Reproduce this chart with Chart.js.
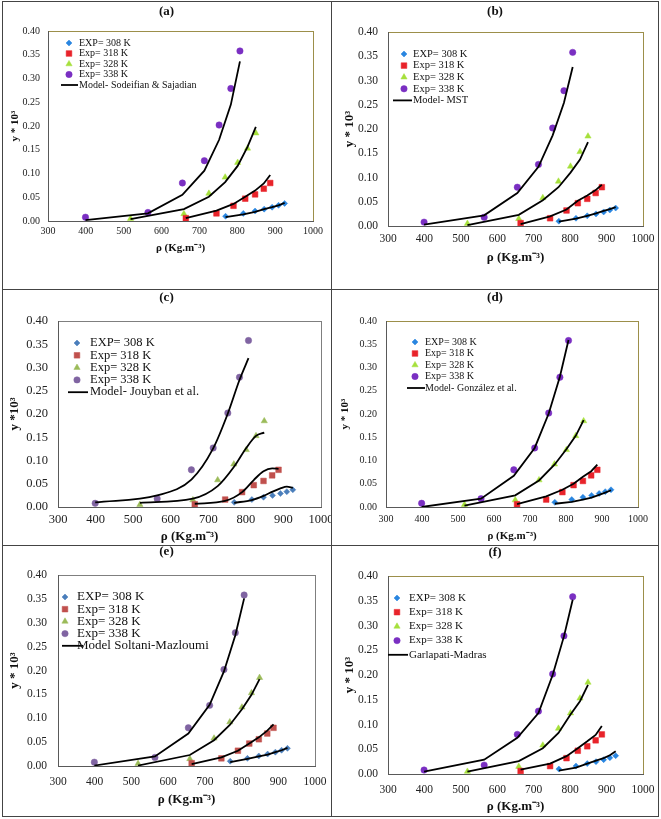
<!DOCTYPE html>
<html lang="en">
<head>
  <meta charset="UTF-8" />
  <title>Solubility vs CO2 density - six models</title>
  <script src="https://cdn.jsdelivr.net/npm/chart.js"></script>
  <style>
    body {
      margin: 0;
      background: #fff;
    }

    #page {
      position: relative;
      width: 661px;
      height: 819px;
      overflow: hidden;
    }

    canvas {
      position: absolute;
    }

    .rule {
      position: absolute;
      background: #444;
    }
  </style>
</head>
<body>
  <div id="page">
    <canvas id="ca"></canvas>
    <canvas id="cb"></canvas>
    <canvas id="cc"></canvas>
    <canvas id="cd"></canvas>
    <canvas id="ce"></canvas>
    <canvas id="cf"></canvas>

    <div class="rule" style="left:2px;top:1px;width:657px;height:1px"></div>
    <div class="rule" style="left:2px;top:816px;width:657px;height:1px"></div>
    <div class="rule" style="left:2px;top:1px;width:1px;height:816px"></div>
    <div class="rule" style="left:658px;top:1px;width:1px;height:816px"></div>
    <div class="rule" style="left:331px;top:1px;width:1px;height:816px"></div>
    <div class="rule" style="left:2px;top:289px;width:657px;height:1px"></div>
    <div class="rule" style="left:2px;top:545px;width:657px;height:1px"></div>
  </div>

  <script>
    // densities (kg/m3) of the experimental points
    const rho308 = [769, 816, 847, 871, 892, 909, 925];
    const rho318 = [664, 745, 790, 821, 847, 870, 887];
    const rho328 = [518, 659, 725, 768, 801, 827, 849];
    const rho338 = [399, 564, 655, 713, 752, 783, 807];

    // measured solubility y * 10^3
    const exp308 = [0.010, 0.016, 0.021, 0.025, 0.029, 0.033, 0.037];
    const exp318 = [0.006, 0.016, 0.032, 0.047, 0.056, 0.068, 0.080];
    const exp328 = [0.005, 0.015, 0.058, 0.092, 0.123, 0.153, 0.185];
    const exp338 = [0.008, 0.018, 0.080, 0.127, 0.202, 0.279, 0.358];

    const expLabels = ['EXP= 308 K', 'Exp= 318 K', 'Exp= 328 K', 'Exp= 338 K'];

    const xMin = 300, xMax = 1000, xStep = 100;
    const yMin = 0, yMax = 0.40, yStep = 0.05;

    // model predictions, rows: 308, 318, 328, 338 K
    const sodeifian = [
      [0.008, 0.014, 0.019, 0.025, 0.029, 0.033, 0.038],
      [0.006, 0.022, 0.036, 0.051, 0.064, 0.079, 0.097],
      [0.004, 0.025, 0.051, 0.082, 0.116, 0.156, 0.198],
      [0.002, 0.016, 0.055, 0.106, 0.171, 0.245, 0.336]
    ];
    const mst = [
      [0.009, 0.015, 0.021, 0.026, 0.031, 0.035, 0.039],
      [0.004, 0.020, 0.034, 0.052, 0.063, 0.074, 0.085],
      [0.002, 0.023, 0.053, 0.080, 0.110, 0.137, 0.173],
      [0.003, 0.022, 0.068, 0.122, 0.187, 0.254, 0.328]
    ];
    const jouyban = [
      [0.009, 0.015, 0.024, 0.033, 0.040, 0.044, 0.041],
      [0.007, 0.013, 0.032, 0.058, 0.077, 0.083, 0.082],
      [0.009, 0.018, 0.045, 0.086, 0.127, 0.153, 0.160],
      [0.010, 0.025, 0.059, 0.126, 0.201, 0.273, 0.320]
    ];
    const gonzalez = [
      [0.007, 0.011, 0.016, 0.020, 0.026, 0.031, 0.036],
      [0.006, 0.023, 0.037, 0.050, 0.065, 0.077, 0.091],
      [0.003, 0.025, 0.057, 0.091, 0.124, 0.153, 0.187],
      [0.000, 0.018, 0.067, 0.127, 0.201, 0.280, 0.359]
    ];
    const soltani = [
      [0.008, 0.015, 0.020, 0.024, 0.029, 0.033, 0.038],
      [0.004, 0.018, 0.032, 0.047, 0.060, 0.074, 0.087],
      [0.001, 0.023, 0.054, 0.086, 0.119, 0.149, 0.182],
      [0.001, 0.020, 0.068, 0.128, 0.198, 0.274, 0.351]
    ];
    const garlapati = [
      [0.007, 0.013, 0.021, 0.027, 0.032, 0.038, 0.046],
      [0.009, 0.021, 0.036, 0.052, 0.066, 0.079, 0.097],
      [0.005, 0.026, 0.052, 0.083, 0.120, 0.147, 0.180],
      [0.005, 0.029, 0.073, 0.123, 0.200, 0.278, 0.352]
    ];

    const densities = [rho308, rho318, rho328, rho338];
    const exps = [exp308, exp318, exp328, exp338];
    const shapes = ['rectRot', 'rect', 'triangle', 'circle'];
    const radii = [3, 4, 3.6, 3.2];
    const bright = ['#2a86e0', '#e8232a', '#a6e03c', '#7a2fc2'];
    const office = ['#4a7ebb', '#c0504d', '#9bbb59', '#8064a2'];
    const FONT = '"Liberation Serif", "Times New Roman", serif';

    const pts = (xs, ys) => xs.map((x, i) => ({ x, y: ys[i] }));

    // frame round the plot area (top/right visible, axes cover left/bottom)
    const plotFrame = {
      id: 'plotFrame',
      beforeDraw(chart, args, o) {
        const a = chart.chartArea;
        const ctx = chart.ctx;
        ctx.save();
        ctx.strokeStyle = o.color;
        ctx.lineWidth = 1;
        ctx.strokeRect(Math.round(a.left) + 0.5, Math.round(a.top) + 0.5,
          Math.round(a.right - a.left), Math.round(a.bottom - a.top));
        ctx.restore();
      }
    };

    // legend drawn inside the plot area, plus the panel letter
    const insideLegend = {
      id: 'insideLegend',
      afterDatasetsDraw(chart, args, o) {
        const ctx = chart.ctx;
        const ds = chart.data.datasets;
        ctx.save();
        ctx.font = o.size + 'px ' + FONT;
        ctx.textBaseline = 'middle';
        ctx.textAlign = 'left';
        for (let i = 0; i < 5; i++) {
          const y = o.y + i * o.dy;
          const d = ds[i];
          if (i < 4) {
            ctx.fillStyle = d.backgroundColor;
            ctx.strokeStyle = d.borderColor;
            ctx.lineWidth = 0.5;
            Chart.helpers.drawPoint(ctx, { pointStyle: d.pointStyle, radius: d.pointRadius, borderWidth: 0.5, rotation: 0 }, o.mx, y);
          } else {
            ctx.strokeStyle = '#000';
            ctx.lineWidth = 1.8;
            ctx.beginPath();
            ctx.moveTo(o.lx1, y);
            ctx.lineTo(o.lx2, y);
            ctx.stroke();
          }
          ctx.fillStyle = '#111';
          ctx.fillText(d.label, o.tx, y);
        }
        ctx.font = 'bold 13px ' + FONT;
        ctx.textAlign = 'center';
        ctx.fillText(o.panel, chart.width / 2, o.ly);
        ctx.restore();
      }
    };

    const panels = [
      { id: 'a', model: sodeifian, name: 'Model- Sodeifian & Sajadian', colors: bright, frame: '#9c8f4a', smooth: false,
        cell: { x: 2, y: 1, w: 329, h: 288 }, plot: { l: 48, t: 31, r: 313, b: 221 },
        yTitle: 'y * 10³', yTitleX: 15, xTitleY: 248, fs: 10, tfs: 11, ytPad: 8, xtPad: 4, ly: 12,
        leg: { mx: 69, tx: 79, lx1: 61, lx2: 78, y: 43, dy: 10.5, size: 10 } },
      { id: 'b', model: mst, name: 'Model- MST', colors: bright, frame: '#9c8f4a', smooth: false,
        cell: { x: 331, y: 1, w: 328, h: 288 }, plot: { l: 388, t: 32, r: 643, b: 226 },
        yTitle: 'y * 10³', yTitleX: 350, xTitleY: 258, fs: 11.5, tfs: 13, ytPad: 10, xtPad: 6, ly: 12,
        leg: { mx: 404, tx: 413, lx1: 393, lx2: 412, y: 54, dy: 11.6, size: 10.5 } },
      { id: 'c', model: jouyban, name: 'Model- Jouyban et al.', colors: office, frame: '#7f7f7f', smooth: true,
        cell: { x: 2, y: 289, w: 329, h: 256 }, plot: { l: 58, t: 321, r: 321, b: 507 },
        yTitle: 'y *10³', yTitleX: 15, xTitleY: 537, fs: 12.5, tfs: 13, ytPad: 10, xtPad: 5, ly: 298,
        leg: { mx: 77, tx: 90, lx1: 68, lx2: 88, y: 343, dy: 12.3, size: 12.5 } },
      { id: 'd', model: gonzalez, name: 'Model- González et al.', colors: bright, frame: '#9c8f4a', smooth: false,
        cell: { x: 331, y: 289, w: 328, h: 256 }, plot: { l: 386, t: 321, r: 638, b: 507 },
        yTitle: 'y * 10³', yTitleX: 345, xTitleY: 536, fs: 10, tfs: 11, ytPad: 9, xtPad: 6, ly: 298,
        leg: { mx: 415, tx: 425, lx1: 407, lx2: 425, y: 342, dy: 11.5, size: 10 } },
      { id: 'e', model: soltani, name: 'Model Soltani-Mazloumi', colors: office, frame: '#7f7f7f', smooth: false,
        cell: { x: 2, y: 545, w: 329, h: 272 }, plot: { l: 58, t: 575, r: 315, b: 766 },
        yTitle: 'y * 10³', yTitleX: 15, xTitleY: 800, fs: 11.5, tfs: 13, ytPad: 11, xtPad: 9, ly: 552,
        leg: { mx: 65, tx: 77, lx1: 62, lx2: 83, y: 597, dy: 12.2, size: 13 } },
      { id: 'f', model: garlapati, name: 'Garlapati-Madras', colors: bright, frame: '#9c8f4a', smooth: false,
        cell: { x: 331, y: 545, w: 328, h: 272 }, plot: { l: 388, t: 576, r: 643, b: 774 },
        yTitle: 'y * 10³', yTitleX: 350, xTitleY: 807, fs: 11.5, tfs: 13, ytPad: 10, xtPad: 9, ly: 553,
        leg: { mx: 397, tx: 409, lx1: 388, lx2: 408, y: 598, dy: 14.2, size: 11 } }
    ];

    function makePanel(p) {
      const cv = document.getElementById('c' + p.id);
      const c = p.cell;
      cv.width = c.w;
      cv.height = c.h;
      cv.style.left = c.x + 'px';
      cv.style.top = c.y + 'px';

      const half = p.tfs * 1.2 / 2;
      const padL = p.yTitleX - c.x - half;
      const yW = p.plot.l - c.x - padL;
      const scaleBottom = p.xTitleY - c.y + half;
      const xH = scaleBottom - (p.plot.b - c.y);

      const datasets = [];
      exps.forEach((ys, k) => datasets.push({
        label: expLabels[k],
        data: pts(densities[k], ys),
        pointStyle: shapes[k],
        pointRadius: radii[k],
        backgroundColor: p.colors[k],
        borderColor: p.colors[k],
        borderWidth: 0.5,
        order: 1
      }));
      p.model.forEach((ys, k) => datasets.push({
        label: p.name,
        data: pts(densities[k], ys),
        showLine: true,
        borderColor: '#000',
        borderWidth: 1.8,
        pointRadius: 0,
        cubicInterpolationMode: p.smooth ? 'monotone' : 'default',
        tension: 0,
        order: 0
      }));

      const L = p.leg;
      new Chart(cv, {
        type: 'scatter',
        data: { datasets },
        options: {
          responsive: false,
          animation: false,
          layout: {
            padding: { left: padL, top: p.plot.t - c.y, right: c.x + c.w - p.plot.r, bottom: c.h - scaleBottom }
          },
          plugins: {
            legend: { display: false },
            tooltip: { enabled: false },
            plotFrame: { color: p.frame },
            insideLegend: {
              panel: '(' + p.id + ')', ly: p.ly - c.y, size: L.size,
              mx: L.mx - c.x, tx: L.tx - c.x, lx1: L.lx1 - c.x, lx2: L.lx2 - c.x,
              y: L.y - c.y, dy: L.dy
            }
          },
          scales: {
            x: {
              type: 'linear', min: xMin, max: xMax,
              grid: { display: false, drawTicks: false },
              border: { color: '#595959', width: 1 },
              ticks: { stepSize: xStep, padding: p.xtPad, color: '#222', font: { family: FONT, size: p.fs }, callback: v => String(v) },
              title: { display: true, text: 'ρ (Kg.m⁻³)', padding: 0, color: '#111', font: { family: FONT, size: p.tfs, weight: 'bold' } },
              afterFit: s => { s.height = xH; s.paddingLeft = 0; s.paddingRight = 0; }
            },
            y: {
              min: yMin, max: yMax,
              grid: { display: false, drawTicks: false },
              border: { color: '#595959', width: 1 },
              ticks: { stepSize: yStep, padding: p.ytPad, color: '#222', font: { family: FONT, size: p.fs }, callback: v => v.toFixed(2) },
              title: { display: true, text: p.yTitle, padding: 0, color: '#111', font: { family: FONT, size: p.tfs, weight: 'bold' } },
              afterFit: s => { s.width = yW; s.paddingTop = 0; s.paddingBottom = 0; }
            }
          }
        },
        plugins: [plotFrame, insideLegend]
      });
    }

    panels.forEach(makePanel);
  </script>
</body>
</html>
